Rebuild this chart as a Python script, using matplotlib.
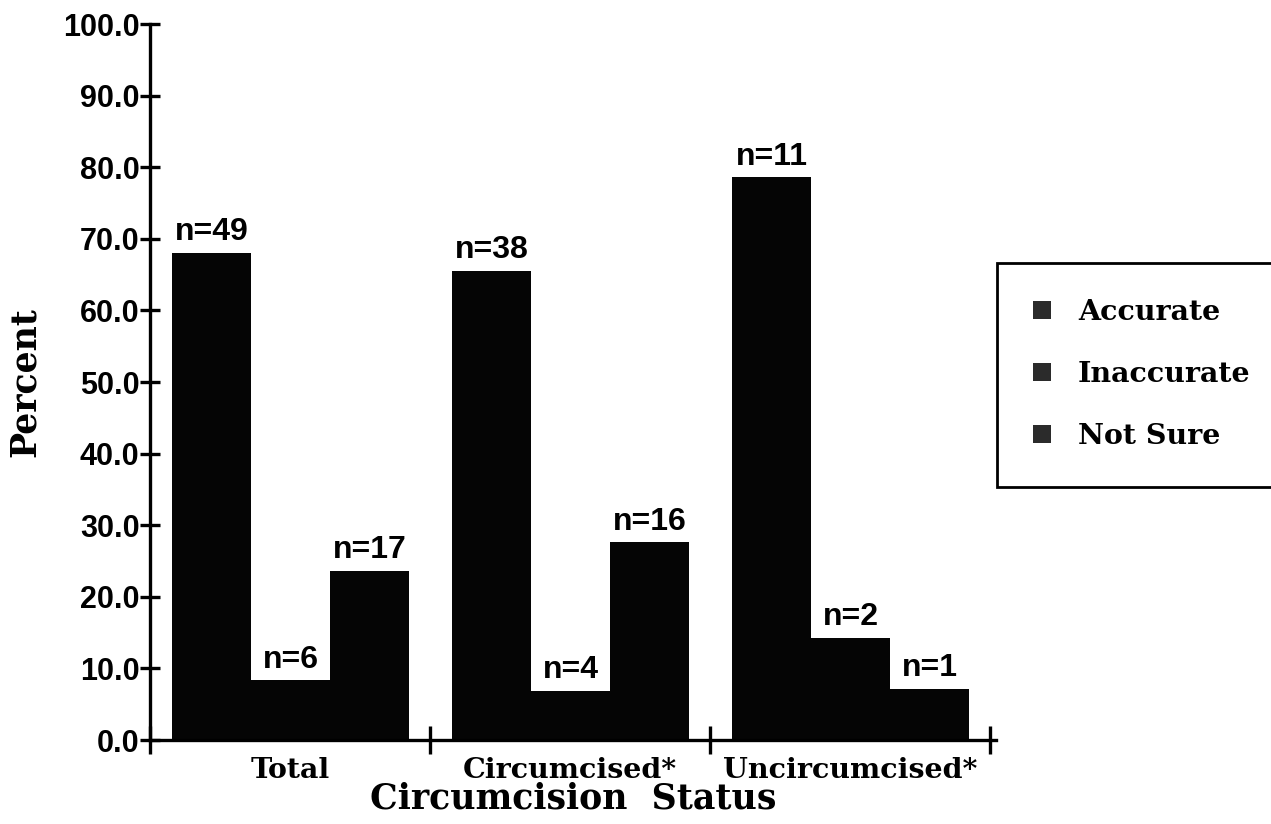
import matplotlib
matplotlib.use("Agg")
import matplotlib.pyplot as plt
import numpy as np

# Survey responses by circumcision status
groups = ["Total", "Circumcised*", "Uncircumcised*"]
responses = ["Accurate", "Inaccurate", "Not Sure"]
counts = {
    "Accurate":   [49, 38, 11],
    "Inaccurate": [6, 4, 2],
    "Not Sure":   [17, 16, 1],
}
totals = [sum(counts[r][g] for r in responses) for g in range(len(groups))]
percents = {r: [100.0 * counts[r][g] / totals[g] for g in range(len(groups))]
            for r in responses}
yticks = [0, 10, 20, 30, 40, 50, 60, 70, 80, 90, 100]

W, H = 1271, 824
fig = plt.figure(figsize=(W / 100, H / 100), dpi=100)
ax = fig.add_axes([150 / W, (H - 740) / H, 846 / W, 716 / H])

serif = "DejaVu Serif"
sans = "Liberation Sans"

bar_w = 0.282
first = 0.079 + bar_w / 2
for i, r in enumerate(responses):
    xs = np.arange(len(groups)) + first + i * bar_w
    bars = ax.bar(xs, percents[r], width=bar_w, color="#050505",
                  edgecolor="none", label=r, zorder=2)
    for b, n in zip(bars, counts[r]):
        ax.annotate(f"n={n}", (b.get_x() + b.get_width() / 2, b.get_height()),
                    xytext=(0, 4), textcoords="offset points",
                    ha="center", va="bottom", fontsize=23,
                    fontweight="bold", family=sans)

ax.set_xlim(0, 3.02)
ax.set_ylim(0, 100)

for s in ("top", "right"):
    ax.spines[s].set_visible(False)
for s in ("left", "bottom"):
    ax.spines[s].set_linewidth(2.4)
    ax.spines[s].set_color("black")

ax.set_yticks(yticks)
ax.set_yticklabels([f"{v:.1f}" for v in yticks], fontsize=22,
                   fontweight="bold", family=sans)
ax.tick_params(axis="y", direction="inout", length=14, width=2.4, pad=0.5)

ax.set_xticks([0, 1, 2, 3])
ax.set_xticklabels([])
ax.set_xticks([0.5, 1.5, 2.5], minor=True)
ax.set_xticklabels(groups, minor=True, fontsize=20.5, fontweight="bold",
                   family=serif)
ax.tick_params(axis="x", which="major", direction="inout", length=20, width=2.4)
ax.tick_params(axis="x", which="minor", length=0, pad=12)

ax.set_ylabel("Percent", fontsize=25, fontweight="bold", family=serif)
ax.yaxis.set_label_coords(-0.128, 0.5)
ax.set_xlabel("Circumcision  Status", fontsize=25, fontweight="bold",
              family=serif)
ax.xaxis.set_label_coords(0.5, -0.058)

leg = ax.legend(loc="upper left",
                bbox_to_anchor=(997 / W, (H - 487) / H, 0.3, 224 / H),
                bbox_transform=fig.transFigure, mode="expand",
                prop={"family": serif, "weight": "bold", "size": 20.5},
                frameon=True, fancybox=False, borderpad=1.28,
                labelspacing=1.23, handlelength=0.6, handleheight=0.6,
                handletextpad=0.96, borderaxespad=0)
frame = leg.get_frame()
frame.set_edgecolor("black")
frame.set_linewidth(2.0)
frame.set_alpha(1)
for h in leg.legend_handles:
    h.set_facecolor("#2b2b2b")

fig.savefig("out.png", dpi=100, facecolor="white")
